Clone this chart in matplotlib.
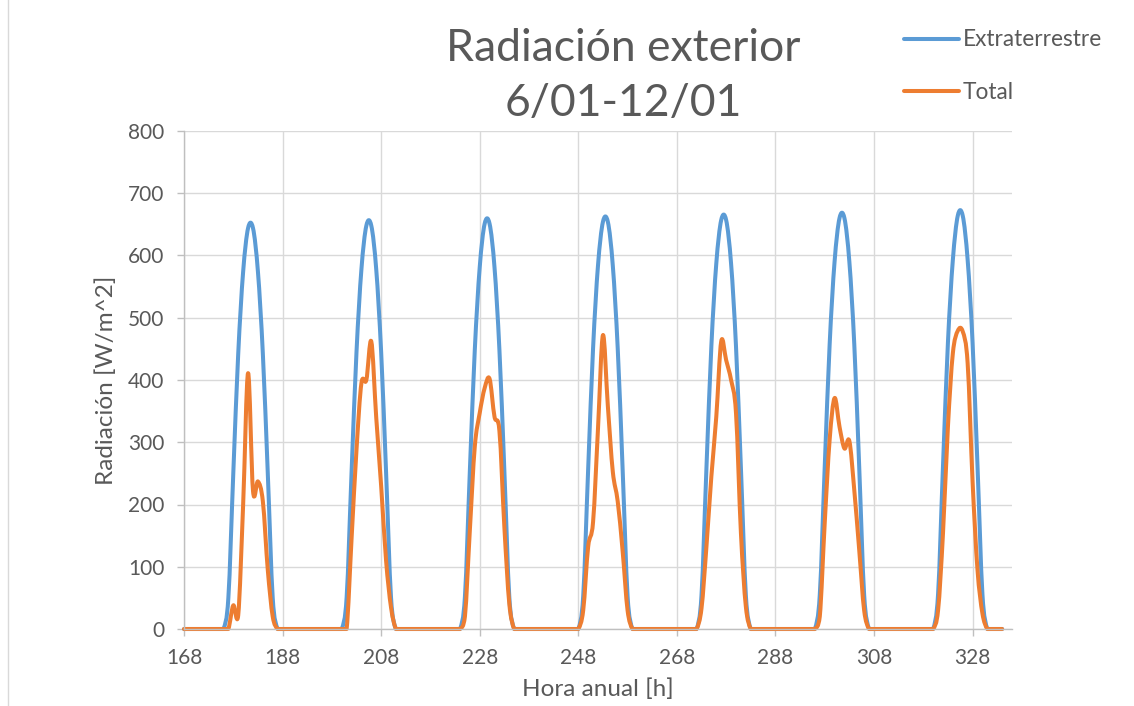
import numpy as np
import matplotlib
matplotlib.use("Agg")
import matplotlib.pyplot as plt
from matplotlib.path import Path
from matplotlib.patches import PathPatch
from matplotlib.lines import Line2D

# ---------------- data ----------------
hour_start = 168
hour_end = 334
# first hour (value 0) of each daylight window
day_first_hour = [176, 200, 224, 248, 272, 296, 320]

# Extraterrestre, 12 hourly values per day starting at day_first_hour
ext_d1 = [0, 50, 250, 442, 574, 644, 644, 574, 442, 250, 50, 0]
ext_d2 = [0, 51, 252, 445, 578, 648, 648, 578, 445, 252, 51, 0]
ext_d3 = [0, 52, 254, 448, 581, 651, 651, 581, 448, 254, 52, 0]
ext_d4 = [0, 53, 256, 451, 584, 654, 654, 584, 451, 256, 53, 0]
ext_d5 = [0, 54, 258, 454, 587, 657, 657, 587, 454, 258, 54, 0]
ext_d6 = [0, 55, 260, 457, 590, 660, 660, 590, 457, 260, 55, 0]
ext_d7 = [0, 56, 262, 460, 593, 664, 664, 593, 460, 262, 56, 0]

# Total
tot_d1 = [0, 0, 38, 22, 200, 411, 222, 237, 205, 95, 20, 0]
tot_d2 = [0, 0, 145, 288, 395, 400, 462, 340, 230, 110, 35, 0]
tot_d3 = [0, 20, 159, 293, 347, 387, 402, 341, 318, 164, 41, 0]
tot_d4 = [0, 30, 132, 172, 322, 472, 358, 253, 205, 125, 30, 0]
tot_d5 = [0, 33, 132, 245, 341, 462, 432, 400, 347, 154, 36, 0]
tot_d6 = [0, 20, 170, 304, 371, 325, 290, 302, 223, 127, 30, 0]
tot_d7 = [0, 30, 154, 325, 443, 479, 478, 427, 237, 95, 25, 0]

ext_days = [ext_d1, ext_d2, ext_d3, ext_d4, ext_d5, ext_d6, ext_d7]
tot_days = [tot_d1, tot_d2, tot_d3, tot_d4, tot_d5, tot_d6, tot_d7]

x_ticks = [168, 188, 208, 228, 248, 268, 288, 308, 328]
y_ticks = [0, 100, 200, 300, 400, 500, 600, 700, 800]

title = "Radiación exterior\n6/01-12/01"
xlabel = "Hora anual [h]"
ylabel = "Radiación [W/m^2]"
labels = ["Extraterrestre", "Total"]


def assemble(days):
    hours = np.arange(hour_start, hour_end + 1)
    vals = np.zeros(len(hours))
    for first, d in zip(day_first_hour, days):
        for k, v in enumerate(d):
            vals[first + k - hour_start] = v
    return hours, vals


hours, ext = assemble(ext_days)
_, tot = assemble(tot_days)


def smooth_path(x, y):
    # Excel-like smoothed line: cubic Bezier through the data points
    pts = np.column_stack([x, y]).astype(float)
    ymin = pts[:, 1].min()
    n = len(pts)
    verts = [pts[0]]
    codes = [Path.MOVETO]
    for i in range(n - 1):
        p0 = pts[i - 1] if i > 0 else pts[i]
        p1 = pts[i]
        p2 = pts[i + 1]
        p3 = pts[i + 2] if i + 2 < n else pts[i + 1]
        c1 = p1 + (p2 - p0) / 6.0
        c2 = p2 - (p3 - p1) / 6.0
        c1[1] = max(c1[1], ymin)
        c2[1] = max(c2[1], ymin)
        verts += [c1, c2, p2]
        codes += [Path.CURVE4] * 3
    return Path(verts, codes)


FONT = ["Lato", "DejaVu Sans"]
TXT = "#595959"
BLUE = "#5B9BD5"
ORANGE = "#ED7D31"

plt.rcParams["font.family"] = FONT

fig = plt.figure(figsize=(11.34, 7.06), dpi=100)
ax = fig.add_axes([184 / 1134, 1 - 629 / 706, (1012 - 184) / 1134, (629 - 131) / 706])

ax.set_xlim(168, 336)
ax.set_ylim(0, 800)
ax.set_xticks(x_ticks)
ax.set_yticks(y_ticks)
ax.grid(True, color="#D9D9D9", lw=1.0)
ax.set_axisbelow(True)
for s in ["top", "right"]:
    ax.spines[s].set_visible(False)
for s in ["left", "bottom"]:
    ax.spines[s].set_color("#BFBFBF")
    ax.spines[s].set_linewidth(1.0)
ax.tick_params(axis="both", colors="#BFBFBF", labelcolor=TXT, labelsize=15,
               length=5, width=1.0, direction="out", pad=9)

for series, col in [(ext, BLUE), (tot, ORANGE)]:
    patch = PathPatch(smooth_path(hours, series), fill=False, edgecolor=col,
                      lw=2.9, capstyle="round", joinstyle="round", clip_on=False)
    ax.add_patch(patch)

ax.set_xlabel(xlabel, fontsize=17.5, color=TXT, labelpad=7)
ax.set_ylabel(ylabel, fontsize=17.5, color=TXT, labelpad=8)

fig.text(623 / 1134, 1 - 76 / 706, title, ha="center", va="center",
         fontsize=32, color=TXT, linespacing=1.42)

handles = [Line2D([], [], color=BLUE, lw=2.9, solid_capstyle="round"),
           Line2D([], [], color=ORANGE, lw=2.9, solid_capstyle="round")]
fig.legend(handles, labels, loc="center left",
           bbox_to_anchor=(904 / 1134, 1 - 66 / 706), frameon=False,
           fontsize=16.25, labelcolor=TXT, handlelength=2.45, handletextpad=0.15,
           labelspacing=1.38, borderpad=0, borderaxespad=0)

fig.add_artist(Line2D([8 / 1134, 8 / 1134], [0, 1], transform=fig.transFigure,
                      color="#D9D9D9", lw=1.0))

fig.savefig("out.png", dpi=100)
